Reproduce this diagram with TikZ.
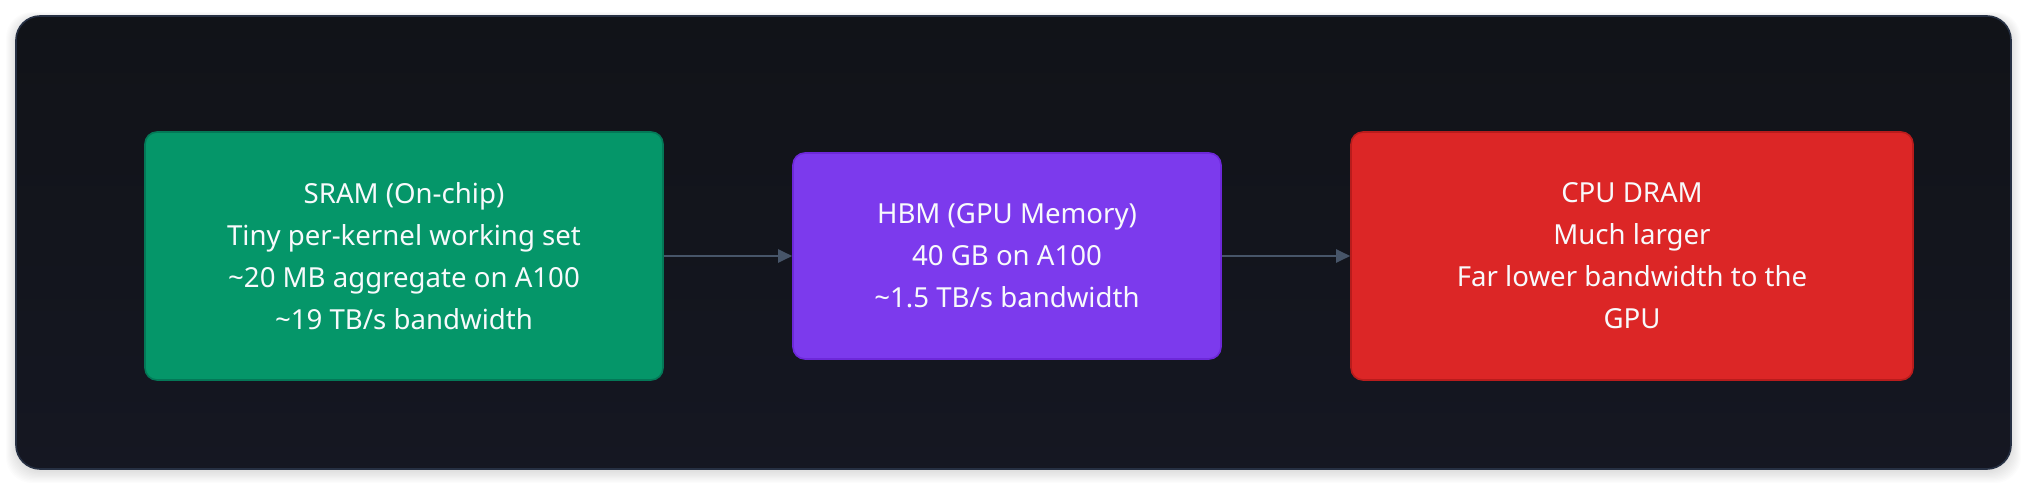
\documentclass[tikz,border=0pt]{standalone}
\usepackage{fontspec}
\setmainfont{Noto Sans}
\usetikzlibrary{arrows.meta,positioning}
\definecolor{panelTop}{HTML}{111318}
\definecolor{panelBot}{HTML}{151722}
\definecolor{panelEdge}{HTML}{263043}
\definecolor{greenFill}{HTML}{059669}
\definecolor{greenEdge}{HTML}{047857}
\definecolor{violetFill}{HTML}{7C3AED}
\definecolor{violetEdge}{HTML}{6D28D9}
\definecolor{redFill}{HTML}{DC2626}
\definecolor{redEdge}{HTML}{B91C1C}
\definecolor{arrowCol}{HTML}{475569}
\definecolor{txtCol}{HTML}{F8FAFC}
\tikzset{
  membox/.style={rectangle, rounded corners=6pt, line width=0.8pt, align=center,
    text=txtCol, font=\fontsize{13.8pt}{21pt}\selectfont, inner sep=0pt},
  flow/.style={draw=arrowCol, line width=1pt, -{Triangle[length=7pt,width=6.5pt]}}
}
\begin{document}
\begin{tikzpicture}[x=0.5pt,y=-0.5pt]
\useasboundingbox (0,0) rectangle (2028,486);
\fill[white] (0,0) rectangle (2028,486);
% soft shadow
\foreach \i in {1,...,10}{
  \fill[black, opacity=0.012, rounded corners=13pt] (16-\i,18-\i*0.6) rectangle (2011+\i,471+\i*1.2);
}
% panel
\shade[top color=panelTop, bottom color=panelBot, rounded corners=12pt] (16,16) rectangle (2011,469);
\draw[panelEdge, line width=0.8pt, rounded corners=12pt] (16,16) rectangle (2011,469);
% nodes
\node[membox, fill=greenFill, draw=greenEdge, minimum width=259pt, minimum height=124pt]
  (sram) at (404,256) {SRAM (On-chip)\\Tiny per-kernel working set\\\textasciitilde20 MB aggregate on A100\\\textasciitilde19 TB/s bandwidth};
\node[membox, fill=violetFill, draw=violetEdge, minimum width=214pt, minimum height=103pt]
  (hbm) at (1007,256) {HBM (GPU Memory)\\40 GB on A100\\\textasciitilde1.5 TB/s bandwidth};
\node[membox, fill=redFill, draw=redEdge, minimum width=281pt, minimum height=124pt]
  (dram) at (1632,256) {CPU DRAM\\Much larger\\Far lower bandwidth to the\\GPU};
\draw[flow] (sram.east) -- (hbm.west);
\draw[flow] (hbm.east) -- (dram.west);
\end{tikzpicture}
\end{document}
